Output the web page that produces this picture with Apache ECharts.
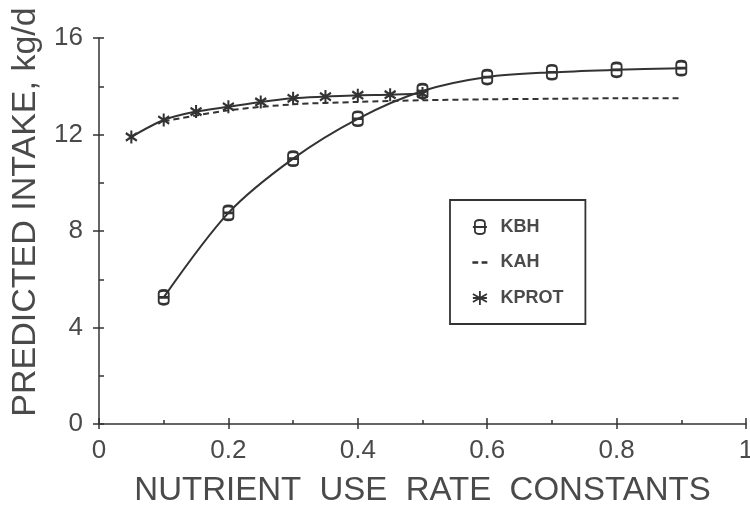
<!DOCTYPE html>
<html>
<head>
<meta charset="utf-8">
<script src="https://cdn.jsdelivr.net/npm/echarts@6/dist/echarts.min.js"></script>
<style>html,body{margin:0;padding:0;background:#fff}#c{width:750px;height:505px}</style>
</head>
<body>
<div id="c"></div>
<script>
// Data
const kbhX = [0.1, 0.2, 0.3, 0.4, 0.5, 0.6, 0.7, 0.8, 0.9];
const kbhY = [5.25, 8.75, 11.0, 12.65, 13.8, 14.38, 14.58, 14.68, 14.75];
const kahX = [0.1, 0.2, 0.3, 0.4, 0.5, 0.6, 0.7, 0.8, 0.9];
const kahY = [12.55, 13.0, 13.25, 13.35, 13.42, 13.46, 13.48, 13.5, 13.5];
const kprotX = [0.05, 0.1, 0.15, 0.2, 0.25, 0.3, 0.35, 0.4, 0.45, 0.5];
const kprotY = [11.9, 12.6, 12.95, 13.15, 13.35, 13.5, 13.57, 13.63, 13.65, 13.7];
const seriesNames = ['KBH', 'KAH', 'KPROT'];
const xTitle = 'NUTRIENT  USE  RATE  CONSTANTS';
const yTitle = 'PREDICTED INTAKE, kg/d';

const pair = (xs, ys) => xs.map((x, i) => [x, ys[i]]);
const ink = '#333333';
const txt = '#4a4a4a';
const font = 'Liberation Sans';

const kbhSymbol = 'path://M0,3 Q0,0 5,0 Q10,0 10,3 L10,11 Q10,14 5,14 Q0,14 0,11 Z M0,7 L10,7';
const starSymbol = 'path://M5,0 L5,12 M0,2.5 L10,9.5 M0,9.5 L10,2.5';
const kbhLegend = 'path://M2,3 Q2,0 7,0 Q12,0 12,3 L12,11 Q12,14 7,14 Q2,14 2,11 Z M0,7 L14,7';
const kahLegend = 'path://M0,6 L5,6 L5,8 L0,8 Z M8,6 L13,6 L13,8 L8,8 Z';
const starLegend = 'path://M7,0 L7,14 M0,3 L14,11 M0,11 L14,3 M0,7 L14,7';

const chart = echarts.init(document.getElementById('c'), null, {renderer: 'canvas'});
const axisLine = {show: true, lineStyle: {color: ink, width: 1.5}};
chart.setOption({
  animation: false,
  backgroundColor: '#fff',
  grid: {left: 99, right: 4, top: 38, bottom: 81, containLabel: false, outerBoundsMode: 'none'},
  xAxis: [{
    type: 'value', min: 0, max: 1, interval: 0.2,
    axisLine: axisLine,
    axisTick: {show: true, inside: true, length: 6, lineStyle: {color: ink, width: 1.5}},
    minorTick: {show: true, splitNumber: 2, length: 4, lineStyle: {color: ink, width: 1.5}},
    splitLine: {show: false},
    axisLabel: {margin: 14, fontSize: 26, color: txt, fontFamily: font,
      formatter: v => (v === 0 || v === 1) ? String(v) : v.toFixed(1)},
    name: xTitle, nameLocation: 'middle', nameGap: 50,
    nameTextStyle: {fontSize: 33, color: txt, fontFamily: font}
  }, {
    type: 'value', min: 0, max: 1, interval: 0.2, position: 'bottom',
    axisLine: {show: false},
    axisTick: {show: true, inside: false, length: 5, lineStyle: {color: ink, width: 1.5}},
    axisLabel: {show: false}, splitLine: {show: false}
  }],
  yAxis: [{
    type: 'value', min: 0, max: 16, interval: 4,
    axisLine: axisLine,
    axisTick: {show: true, inside: true, length: 5, lineStyle: {color: ink, width: 1.5}},
    minorTick: {show: true, splitNumber: 2, length: 5, lineStyle: {color: ink, width: 1.5}},
    splitLine: {show: false},
    axisLabel: {margin: 16, fontSize: 26, color: txt, fontFamily: font},
    name: yTitle, nameLocation: 'middle', nameGap: 56, nameRotate: 90,
    nameTextStyle: {fontSize: 34, color: txt, fontFamily: font, padding: [0, 0, 0, 38]}
  }, {
    type: 'value', min: 0, max: 16, interval: 4, position: 'left',
    axisLine: {show: false},
    axisTick: {show: true, inside: false, length: 6, lineStyle: {color: ink, width: 1.5}},
    axisLabel: {show: false}, splitLine: {show: false}
  }],
  legend: {
    show: true, orient: 'vertical', left: 450, top: 200,
    padding: [18, 22, 17, 22], itemGap: 17.5, itemWidth: 15, itemHeight: 14,
    borderColor: ink, borderWidth: 1.8, backgroundColor: '#fff',
    textStyle: {fontSize: 18, fontWeight: 'bold', color: txt, fontFamily: font, padding: [0, 0, 0, 8]},
    data: [
      {name: seriesNames[0], icon: kbhLegend, itemStyle: {color: 'transparent', borderColor: ink, borderWidth: 1.8}},
      {name: seriesNames[1], icon: kahLegend, itemStyle: {color: ink, borderWidth: 0}},
      {name: seriesNames[2], icon: starLegend, itemStyle: {color: 'transparent', borderColor: ink, borderWidth: 1.8}}
    ]
  },
  series: [{
    name: seriesNames[0], type: 'line', xAxisIndex: 0, yAxisIndex: 0,
    data: pair(kbhX, kbhY), smooth: 0.3,
    symbol: kbhSymbol, symbolSize: [10, 14], z: 3,
    lineStyle: {color: ink, width: 2},
    itemStyle: {color: 'transparent', borderColor: ink, borderWidth: 2.2}
  }, {
    name: seriesNames[1], type: 'line', xAxisIndex: 0, yAxisIndex: 0,
    data: pair(kahX, kahY), smooth: 0.3, showSymbol: false, symbol: 'none',
    lineStyle: {color: ink, width: 2, type: [6, 4]},
    itemStyle: {color: ink}
  }, {
    name: seriesNames[2], type: 'line', xAxisIndex: 0, yAxisIndex: 0,
    data: pair(kprotX, kprotY), smooth: 0.3,
    symbol: starSymbol, symbolSize: [11, 13], z: 3,
    lineStyle: {color: ink, width: 2},
    itemStyle: {color: 'transparent', borderColor: ink, borderWidth: 2.2}
  }]
});
</script>
</body>
</html>
